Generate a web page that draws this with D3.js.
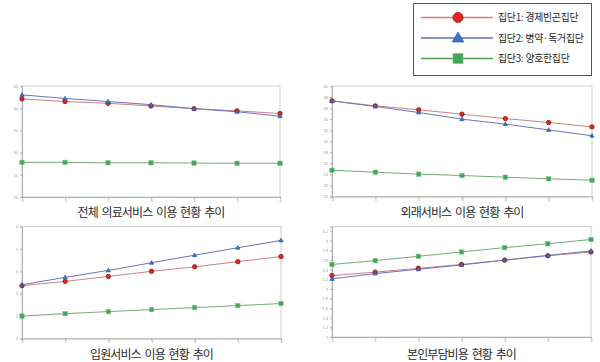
<!DOCTYPE html>
<html>
<head>
<meta charset="utf-8">
<script src="https://cdn.jsdelivr.net/npm/d3@7"></script>
<style>
  body { margin: 0; background: #fff; }
  svg { display: block; font-family: "Noto Sans CJK KR", "Noto Sans", sans-serif; }
</style>
</head>
<body>
<div id="chart"></div>
<script>
var xLabels = ["0", "1", "2", "3", "4", "5", "6"]
var groupNames = ["집단1: 경제빈곤집단", "집단2: 병약·독거집단", "집단3: 양호한집단"]
var titles = ["전체 의료서비스 이용 현황 추이", "외래서비스 이용 현황 추이", "입원서비스 이용 현황 추이", "본인부담비용 현황 추이"]

// values, one array per panel per group
var totalRed = [42.1, 41.5, 41.1, 40.5, 39.9, 39.4, 38.8]
var totalBlue = [43.0, 42.2, 41.5, 40.8, 39.9, 39.2, 38.2]
var totalGreen = [27.8, 27.8, 27.7, 27.7, 27.65, 27.6, 27.6]

var outRed = [37.3, 36.4, 35.7, 34.9, 34.1, 33.4, 32.6]
var outBlue = [37.3, 36.3, 35.2, 34.0, 33.1, 32.05, 31.0]
var outGreen = [24.75, 24.4, 24.05, 23.8, 23.5, 23.2, 22.95]

var inRed = [3.36, 3.55, 3.77, 4.0, 4.2, 4.43, 4.66]
var inBlue = [3.40, 3.73, 4.04, 4.38, 4.72, 5.05, 5.38]
var inGreen = [2.0, 2.11, 2.2, 2.29, 2.38, 2.47, 2.56]

var costRed = [2.28, 2.35, 2.43, 2.51, 2.6, 2.69, 2.77]
var costBlue = [2.21, 2.32, 2.41, 2.50, 2.60, 2.70, 2.79]
var costGreen = [2.51, 2.59, 2.68, 2.77, 2.86, 2.94, 3.03]

var totalTicks = [20, 25, 30, 35, 40, 45]
var outTicks = [20, 22, 24, 26, 28, 30, 32, 34, 36, 38, 40]
var inTicks = [1, 2, 3, 4, 5, 6]
var costTicks = [1, 1.2, 1.4, 1.6, 1.8, 2, 2.2, 2.4, 2.6, 2.8, 3, 3.2]

var lineColors = ["#cf8080", "#6a74b8", "#74aa74"]
var fillColors = ["#e8231e", "#4472c4", "#3ea856"]
var strokeColors = ["#8a1a10", "#2f4f9a", "#2d8040"]

var width = 600, height = 362
var svg = d3.select("#chart").append("svg")
    .attr("width", width)
    .attr("height", height)

var panels = [
    { x0: 22, x1: 280, y0: 86, y1: 197, domain: [20, 45], ticks: totalTicks, series: [totalRed, totalBlue, totalGreen], title: titles[0], ty: 217 },
    { x0: 332, x1: 592, y0: 86, y1: 196.5, domain: [20, 40], ticks: outTicks, series: [outRed, outBlue, outGreen], title: titles[1], ty: 217 },
    { x0: 22, x1: 281, y0: 226.5, y1: 338.5, domain: [1, 6], ticks: inTicks, series: [inRed, inBlue, inGreen], title: titles[2], ty: 358.5 },
    { x0: 332, x1: 591, y0: 226.5, y1: 337, domain: [1, 3.3], ticks: costTicks, series: [costRed, costBlue, costGreen], title: titles[3], ty: 358.5 }
]

function drawMarker(g, k, x, y, s) {
    if (k === 0) {
        g.append("circle").attr("cx", x).attr("cy", y).attr("r", s)
            .attr("fill", fillColors[0]).attr("stroke", strokeColors[0]).attr("stroke-width", 0.8)
    } else if (k === 1) {
        var h = s * 2.1
        g.append("path")
            .attr("d", "M" + x + "," + (y - h * 0.6) + "L" + (x + h * 0.58) + "," + (y + h * 0.4) + "L" + (x - h * 0.58) + "," + (y + h * 0.4) + "Z")
            .attr("fill", fillColors[1]).attr("stroke", strokeColors[1]).attr("stroke-width", 0.6)
    } else {
        g.append("rect").attr("x", x - s).attr("y", y - s).attr("width", s * 2).attr("height", s * 2)
            .attr("fill", fillColors[2]).attr("stroke", "#7cc08a").attr("stroke-width", 0.6)
    }
}

panels.forEach(function (p) {
    var x = d3.scalePoint().domain(xLabels).range([p.x0, p.x1])
    var y = d3.scaleLinear().domain(p.domain).range([p.y1, p.y0])
    var g = svg.append("g")

    g.append("rect")
        .attr("x", p.x0).attr("y", p.y0)
        .attr("width", p.x1 - p.x0).attr("height", p.y1 - p.y0)
        .attr("fill", "none").attr("stroke", "#cfcfcf").attr("stroke-width", 1)

    var yAxis = d3.axisLeft(y).tickValues(p.ticks).tickSize(2).tickPadding(2)
        .tickFormat(function (d) { return String(+d.toFixed(1)) })
    var yg = g.append("g").attr("transform", "translate(" + p.x0 + ",0)").call(yAxis)
    var xAxis = d3.axisBottom(x).tickSize(2).tickPadding(0)
    var xg = g.append("g").attr("transform", "translate(0," + p.y1 + ")").call(xAxis)

    ;[yg, xg].forEach(function (a) {
        a.select(".domain").attr("stroke", "#b0b0b0")
        a.selectAll(".tick line").attr("stroke", "#b0b0b0")
        a.selectAll(".tick text").attr("fill", "#9a9a9a").style("font-size", "4px").style("font-family", "Liberation Sans, sans-serif")
    })

    var line = d3.line()
        .x(function (d, i) { return x(xLabels[i]) })
        .y(function (d) { return y(d) })

    // green first, then red, then blue on top
    ;[2, 0, 1].forEach(function (k) {
        g.append("path")
            .datum(p.series[k])
            .attr("d", line)
            .attr("fill", "none")
            .attr("stroke", lineColors[k])
            .attr("stroke-width", 1)
    })
    ;[2, 0, 1].forEach(function (k) {
        p.series[k].forEach(function (v, i) {
            drawMarker(g, k, x(xLabels[i]), y(v), k === 1 ? 1.8 : 2.2)
        })
    })

    g.append("text")
        .attr("x", (p.x0 + p.x1) / 2)
        .attr("y", p.ty)
        .attr("text-anchor", "middle")
        .style("font-size", "12px")
        .style("letter-spacing", "-0.9px")
        .style("word-spacing", "2px")
        .attr("fill", "#2a2a2a")
        .text(p.title)
})

// legend
var lg = svg.append("g")
lg.append("rect")
    .attr("x", 413.5).attr("y", 3.5).attr("width", 178).attr("height", 72)
    .attr("fill", "#fff").attr("stroke", "#555").attr("stroke-width", 1)
var legendLines = ["#e07a7a", "#5a6cc0", "#4ea050"]
groupNames.forEach(function (name, k) {
    var cy = 17.5 + k * 20.5
    lg.append("line")
        .attr("x1", 421).attr("x2", 493).attr("y1", cy).attr("y2", cy)
        .attr("stroke", legendLines[k]).attr("stroke-width", 1.5)
    drawMarker(lg, k, 458, cy, k === 1 ? 4.8 : 5)
    lg.append("text")
        .attr("x", 498).attr("y", cy + 3.5)
        .style("font-size", "9.8px")
        .style("letter-spacing", "-0.2px")
        .attr("fill", "#222")
        .text(name)
})
</script>
</body>
</html>
